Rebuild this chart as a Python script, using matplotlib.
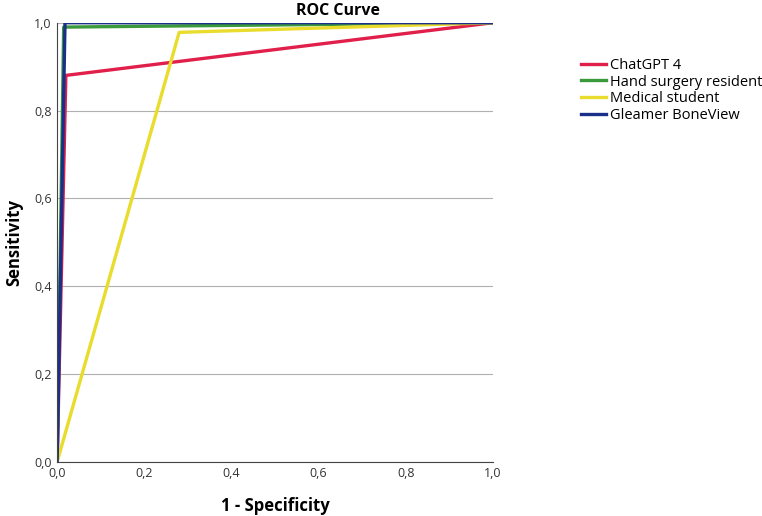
import matplotlib.pyplot as plt

# ROC points (1 - specificity, sensitivity)
chatgpt_x = [0.0, 0.02, 1.0]
chatgpt_y = [0.0, 0.88, 1.0]
resident_x = [0.0, 0.015, 1.0]
resident_y = [0.0, 0.99, 1.0]
student_x = [0.0, 0.28, 1.0]
student_y = [0.0, 0.978, 1.0]
boneview_x = [0.0, 0.018, 1.0]
boneview_y = [0.0, 1.0, 1.0]

ticks = [0.0, 0.2, 0.4, 0.6, 0.8, 1.0]
tick_labels = ["0,0", "0,2", "0,4", "0,6", "0,8", "1,0"]

plt.rcParams["font.family"] = ["Open Sans", "DejaVu Sans"]

fig = plt.figure(figsize=(7.62, 5.16), dpi=100)
ax = fig.add_axes([0.075, 0.105, 0.572, 0.851])

ax.plot(chatgpt_x, chatgpt_y, color="#e0204a", lw=2.4, label="ChatGPT 4")
ax.plot(resident_x, resident_y, color="#3a9a3a", lw=2.4, label="Hand surgery resident")
ax.plot(student_x, student_y, color="#e9dc2c", lw=2.4, label="Medical student")
ax.plot(boneview_x, boneview_y, color="#1a2f8a", lw=2.4, label="Gleamer BoneView")

ax.set_xlim(0, 1)
ax.set_ylim(0, 1)
ax.set_xticks(ticks)
ax.set_xticklabels(tick_labels)
ax.set_yticks(ticks)
ax.set_yticklabels(tick_labels)
ax.tick_params(length=0, labelsize=9, colors="#333333", pad=4)
ax.yaxis.grid(True, color="#b0b0b0", lw=0.8)
ax.set_axisbelow(True)
for s in ["top", "right"]:
    ax.spines[s].set_visible(False)
for s in ["left", "bottom"]:
    ax.spines[s].set_color("#444444")

fig.text(0.444, 0.994, "ROC Curve", ha="center", va="top", fontsize=11.5, fontweight="bold")
ax.set_xlabel("1 - Specificity", fontsize=12, fontweight="bold", labelpad=12)
ax.set_ylabel("Sensitivity", fontsize=12, fontweight="bold", labelpad=8)

fig.legend(loc="upper left", bbox_to_anchor=(0.762, 0.888), frameon=False,
           fontsize=10.5, handlelength=1.75, handletextpad=0.25, labelspacing=0.12,
           borderaxespad=0, borderpad=0)

fig.savefig("out.png", dpi=100)
